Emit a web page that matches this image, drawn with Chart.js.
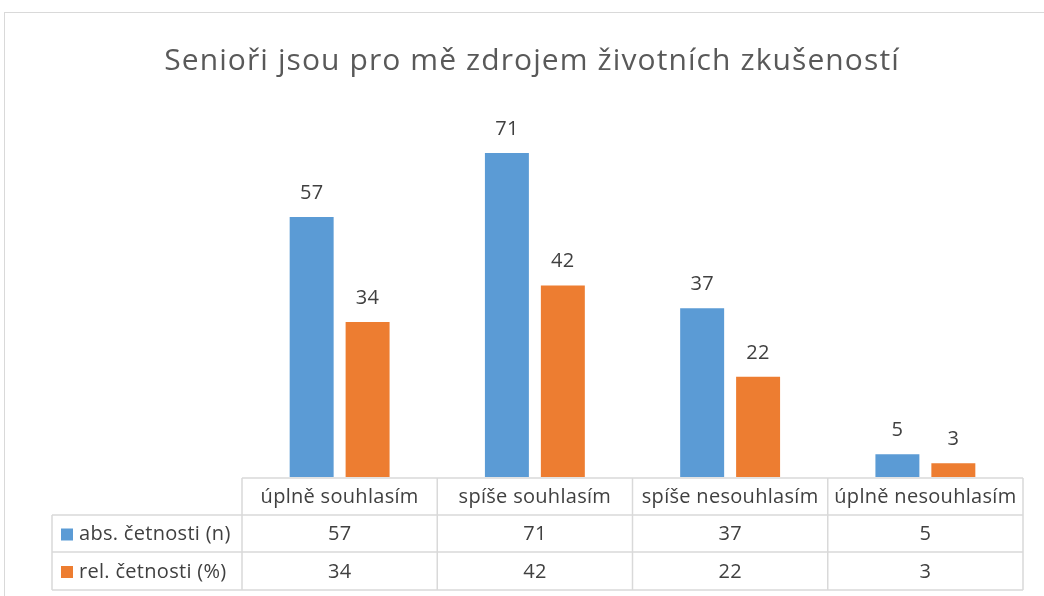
<!DOCTYPE html>
<html>
<head>
<meta charset="utf-8">
<script src="https://cdn.jsdelivr.net/npm/chart.js@4"></script>
<style>
html,body{margin:0;padding:0;background:#fff;}
canvas{display:block;}
</style>
</head>
<body>
<canvas id="c" width="1044" height="596"></canvas>
<script>
const titleText = 'Senioři jsou pro mě zdrojem životních zkušeností';
const categories = ['úplně souhlasím', 'spíše souhlasím', 'spíše nesouhlasím', 'úplně nesouhlasím'];
const seriesNames = ['abs. četnosti (n)', 'rel. četnosti (%)'];
const absValues = [57, 71, 37, 5];
const relValues = [34, 42, 22, 3];
const colors = ['#5B9BD5', '#ED7D31'];

const FONT = '"Open Sans", Lato, sans-serif';
const TEXT = '#404040';
const GRID = '#D9D9D9';

const frame = {
  id: 'frame',
  beforeDraw(chart) {
    const ctx = chart.ctx;
    ctx.save();
    ctx.fillStyle = '#fff';
    ctx.fillRect(0, 0, chart.width, chart.height);
    ctx.strokeStyle = GRID;
    ctx.lineWidth = 1;
    ctx.strokeRect(4.5, 12.5, 1100, 700);
    ctx.fillStyle = '#595959';
    ctx.font = '30px ' + FONT;
    ctx.letterSpacing = '1.1px';
    ctx.textAlign = 'center';
    ctx.textBaseline = 'middle';
    ctx.fillText(titleText, 532, 61);
    ctx.restore();
  }
};

const labelsAndTable = {
  id: 'labelsAndTable',
  afterDatasetsDraw(chart) {
    const ctx = chart.ctx;
    const xs = chart.scales.x;
    const area = chart.chartArea;
    ctx.save();
    ctx.letterSpacing = '0.3px';
    // data labels
    ctx.fillStyle = TEXT;
    ctx.font = '20px ' + FONT;
    ctx.textAlign = 'center';
    ctx.textBaseline = 'alphabetic';
    chart.data.datasets.forEach((ds, di) => {
      chart.getDatasetMeta(di).data.forEach((bar, i) => {
        ctx.fillText(String(ds.data[i]), bar.x, bar.y - 18);
      });
    });
    // table
    const n = categories.length;
    const colW = (area.right - area.left) / n;
    const rowTop = [area.bottom + 1, 515, 552];
    const rowBot = [515, 552, 590];
    const leftX = 52;
    ctx.strokeStyle = GRID;
    ctx.lineWidth = 1.5;
    ctx.beginPath();
    ctx.moveTo(area.left, rowTop[0]); ctx.lineTo(area.right, rowTop[0]);
    ctx.moveTo(leftX, rowTop[1]); ctx.lineTo(area.right, rowTop[1]);
    ctx.moveTo(leftX, rowTop[2]); ctx.lineTo(area.right, rowTop[2]);
    ctx.moveTo(leftX, rowBot[2]); ctx.lineTo(area.right, rowBot[2]);
    ctx.moveTo(leftX, rowTop[1]); ctx.lineTo(leftX, rowBot[2]);
    for (let i = 0; i <= n; i++) {
      const x = area.left + i * colW;
      ctx.moveTo(x, rowTop[0]); ctx.lineTo(x, rowBot[2]);
    }
    ctx.stroke();
    ctx.fillStyle = TEXT;
    ctx.font = '20px ' + FONT;
    ctx.textBaseline = 'middle';
    ctx.textAlign = 'center';
    categories.forEach((c, i) => {
      const cx = xs.getPixelForValue(i);
      ctx.fillText(c, cx, (rowTop[0] + rowBot[0]) / 2 + 1);
    });
    chart.data.datasets.forEach((ds, di) => {
      const cy = (rowTop[di + 1] + rowBot[di + 1]) / 2 + 1;
      ds.data.forEach((v, i) => {
        ctx.textAlign = 'center';
        ctx.fillStyle = TEXT;
        ctx.fillText(String(v), xs.getPixelForValue(i), cy);
      });
      ctx.fillStyle = colors[di];
      ctx.fillRect(61, cy - 6, 12, 12);
      ctx.fillStyle = TEXT;
      ctx.textAlign = 'left';
      ctx.fillText(seriesNames[di], 79, cy);
    });
    ctx.restore();
  }
};

new Chart(document.getElementById('c'), {
  type: 'bar',
  data: {
    labels: categories,
    datasets: [
      { label: seriesNames[0], data: absValues, backgroundColor: colors[0], borderWidth: 0 },
      { label: seriesNames[1], data: relValues, backgroundColor: colors[1], borderWidth: 0 }
    ]
  },
  options: {
    responsive: false,
    animation: false,
    layout: { padding: { left: 242, right: 21, top: 112, bottom: 119 } },
    plugins: { legend: { display: false }, title: { display: false }, tooltip: { enabled: false } },
    datasets: { bar: { categoryPercentage: 0.573, barPercentage: 0.786 } },
    scales: {
      x: { display: false, offset: true, grid: { display: false } },
      y: { display: false, min: 0, max: 80, grid: { display: false } }
    }
  },
  plugins: [frame, labelsAndTable]
});
</script>
</body>
</html>
